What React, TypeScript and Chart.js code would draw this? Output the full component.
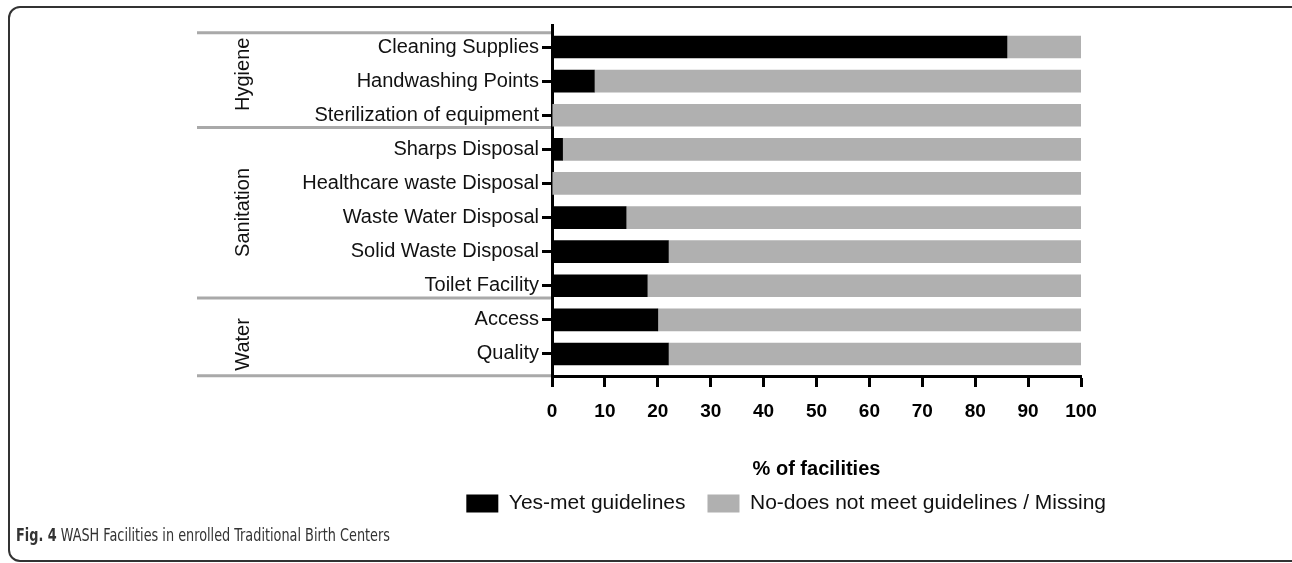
import React, { useEffect, useRef } from "react";
import { Chart, registerables } from "chart.js";

Chart.register(...registerables);

const categories = [
  "Cleaning Supplies",
  "Handwashing Points",
  "Sterilization of equipment",
  "Sharps Disposal",
  "Healthcare waste Disposal",
  "Waste Water Disposal",
  "Solid Waste Disposal",
  "Toilet Facility",
  "Access",
  "Quality",
];
const yesValues = [86, 8, 0, 2, 0, 14, 22, 18, 20, 22];
const noValues = [14, 92, 100, 98, 100, 86, 78, 82, 80, 78];
const seriesNames = ["Yes-met guidelines", "No-does not meet guidelines / Missing"];
const xTicks = [0, 10, 20, 30, 40, 50, 60, 70, 80, 90, 100];
const groupNames = ["Hygiene", "Sanitation", "Water"];
const groupLabelAt = [0.8, 4.85, 8.72];
const groupBounds = [-0.42, 2.36, 7.36, 9.64];
const xTitle = "% of facilities";

const FONT = "'Liberation Sans', Arial, Helvetica, sans-serif";

const groupPlugin = {
  id: "groupPlugin",
  afterDraw(chart: any) {
    const ctx = chart.ctx;
    const y = chart.scales.y;
    const left = chart.chartArea.left;
    ctx.save();
    ctx.strokeStyle = "#a9a9a9";
    ctx.lineWidth = 3;
    groupBounds.forEach((b) => {
      const py = y.getPixelForValue(b);
      ctx.beginPath();
      ctx.moveTo(197, py);
      ctx.lineTo(left - 1, py);
      ctx.stroke();
    });
    ctx.fillStyle = "#111";
    ctx.font = `20px ${FONT}`;
    ctx.textAlign = "center";
    ctx.textBaseline = "middle";
    groupNames.forEach((name, i) => {
      const py = y.getPixelForValue(groupLabelAt[i]);
      ctx.save();
      ctx.translate(243, py);
      ctx.rotate(-Math.PI / 2);
      ctx.fillText(name, 0, 0);
      ctx.restore();
    });
    ctx.restore();
  },
};

export default function App() {
  const ref = useRef<HTMLCanvasElement | null>(null);

  useEffect(() => {
    if (!ref.current) return;
    const chart = new Chart(ref.current, {
      type: "bar",
      data: {
        datasets: [
          {
            label: seriesNames[0],
            data: yesValues.map((v, i) => ({ x: v, y: i })),
            backgroundColor: "#000000",
            borderWidth: 0,
            barThickness: 22,
          },
          {
            label: seriesNames[1],
            data: noValues.map((v, i) => ({ x: v, y: i })),
            backgroundColor: "#b0b0b0",
            borderWidth: 0,
            barThickness: 22,
          },
        ],
      },
      options: {
        indexAxis: "y",
        responsive: false,
        animation: false,
        layout: { padding: { top: 25, left: 0, right: 164, bottom: 39 } },
        scales: {
          x: {
            type: "linear",
            position: "bottom",
            min: 0,
            max: 100,
            stacked: true,
            afterBuildTicks: (s: any) => {
              s.ticks = xTicks.map((v) => ({ value: v }));
            },
            border: { display: true, color: "#000", width: 3 },
            grid: {
              display: true,
              drawOnChartArea: false,
              drawTicks: true,
              tickLength: 11,
              tickWidth: 3,
              tickColor: "#000",
            },
            ticks: {
              color: "#000",
              font: { family: FONT, size: 19, weight: "bold" },
              padding: 13,
              maxRotation: 0,
              autoSkip: false,
            },
            title: {
              display: true,
              text: xTitle,
              color: "#000",
              font: { family: FONT, size: 20, weight: "bold" },
              padding: { top: 0, bottom: -10 },
            },
            afterFit: (s: any) => {
              s.height = 95;
            },
          },
          y: {
            type: "linear",
            position: "left",
            reverse: true,
            bounds: "data",
            offset: false,
            min: -0.646,
            max: 9.646,
            stacked: true,
            afterBuildTicks: (s: any) => {
              s.ticks = categories.map((_, i) => ({ value: i }));
            },
            border: { display: true, color: "#000", width: 3 },
            grid: {
              display: true,
              offset: false,
              drawOnChartArea: false,
              drawTicks: true,
              tickLength: 10,
              tickWidth: 3,
              tickColor: "#000",
            },
            ticks: {
              color: "#111",
              font: { family: FONT, size: 20 },
              padding: 3,
              autoSkip: false,
              callback: (v: any) => categories[Math.round(Number(v))] ?? "",
            },
            afterFit: (s: any) => {
              s.width = 552;
            },
          },
          spacer: {
            type: "linear",
            position: "right",
            display: true,
            grid: { display: false },
            border: { display: false },
            ticks: { display: false },
            afterFit: (s: any) => {
              s.width = 47;
            },
          },
        },
        plugins: {
          legend: {
            display: true,
            position: "bottom",
            align: "end",
            labels: {
              boxWidth: 32,
              boxHeight: 18,
              padding: 22,
              color: "#111",
              font: { family: FONT, size: 21 },
            },
          },
          tooltip: { enabled: false },
        },
      },
      plugins: [groupPlugin],
    });
    return () => chart.destroy();
  }, []);

  return (
    <div
      style={{
        position: "fixed",
        left: 0,
        top: 0,
        width: 1292,
        height: 563,
        overflow: "hidden",
        background: "#fff",
      }}
    >
      <div
        style={{
          position: "absolute",
          left: 8,
          top: 6,
          width: 1300,
          height: 556,
          boxSizing: "border-box",
          border: "2px solid #333",
          borderRadius: 12,
        }}
      />
      <canvas ref={ref} width={1292} height={563} style={{ position: "absolute", left: 0, top: 0 }} />
      <div
        style={{
          position: "absolute",
          left: 16,
          top: 525,
          fontFamily: "'Liberation Sans Narrow', 'DejaVu Sans Condensed', 'Liberation Sans', sans-serif",
          fontSize: 17,
          color: "#333",
          whiteSpace: "nowrap",
          transform: "scaleX(0.84)",
          transformOrigin: "left center",
        }}
      >
        <b>Fig. 4</b> WASH Facilities in enrolled Traditional Birth Centers
      </div>
    </div>
  );
}
